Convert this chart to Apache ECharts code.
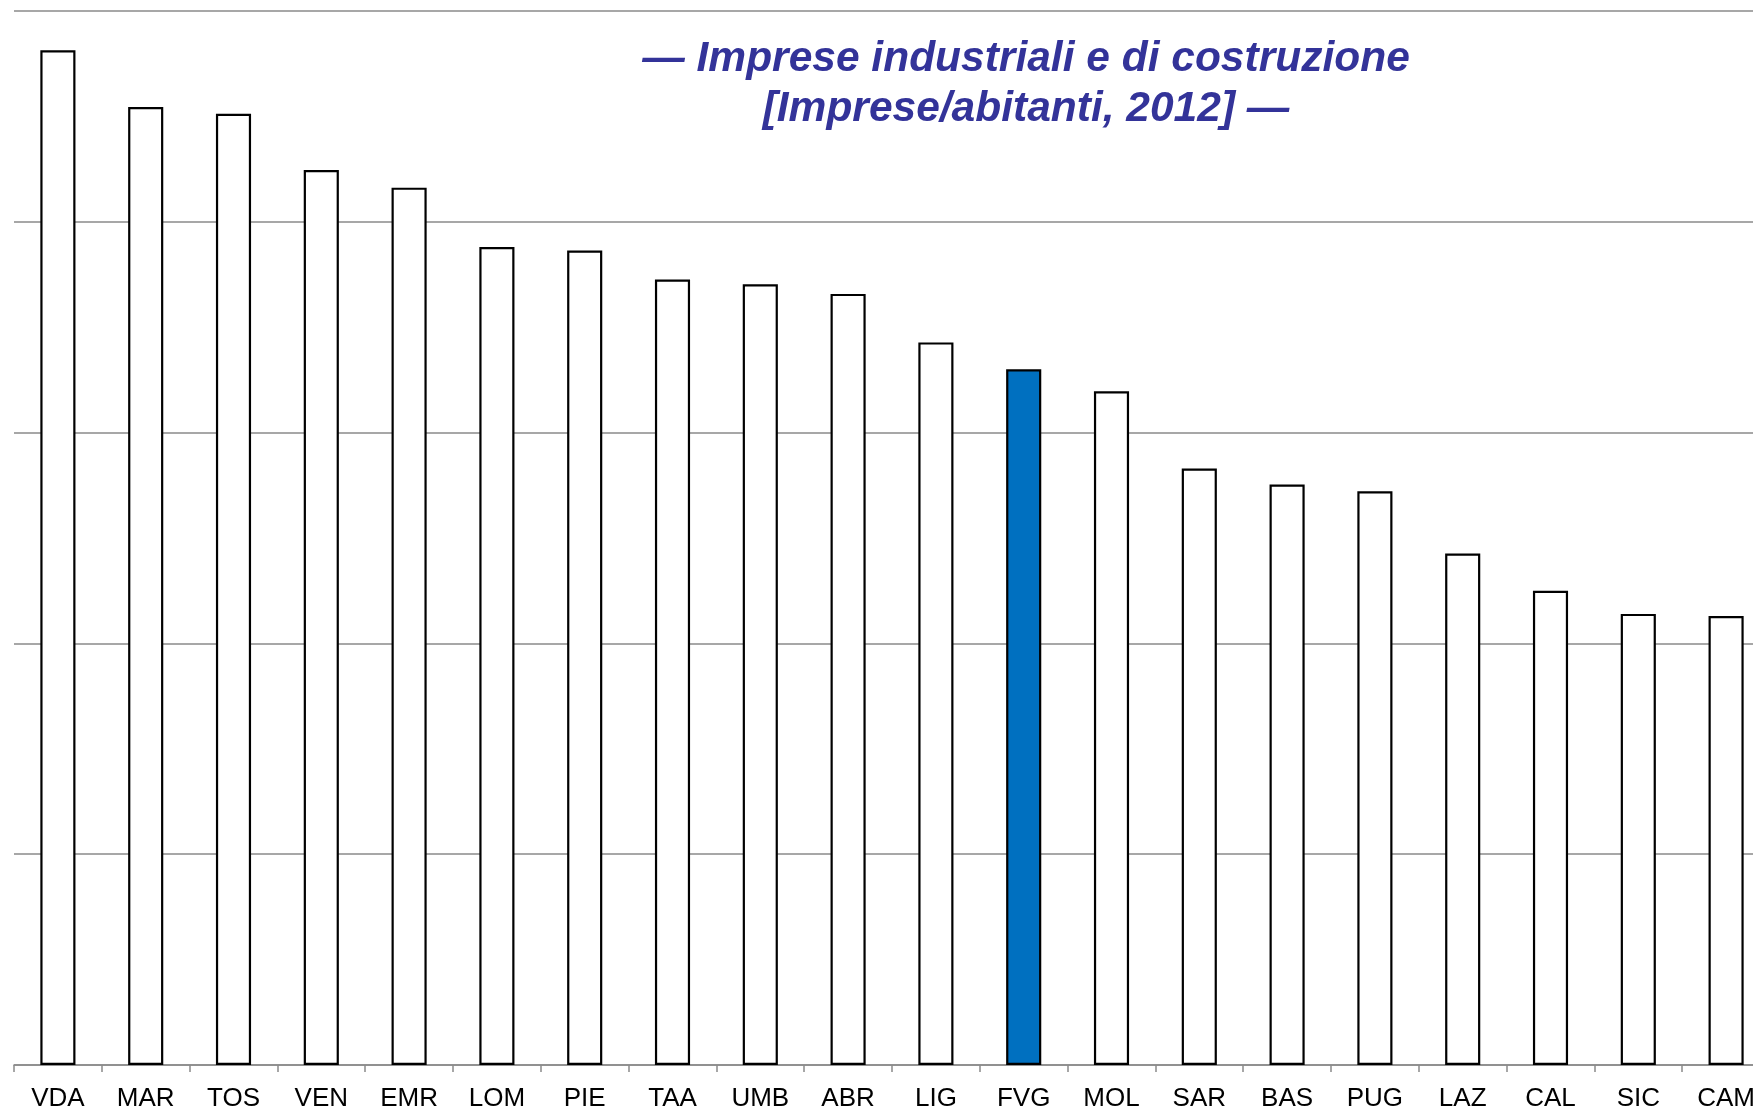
<!DOCTYPE html>
<html>
<head>
<meta charset="utf-8">
<script src="https://cdn.jsdelivr.net/npm/echarts@6/dist/echarts.min.js"></script>
<style>
  html, body { margin: 0; padding: 0; background: #fff; }
  #chart { width: 1753px; height: 1109px; }
</style>
</head>
<body>
<div id="chart"></div>
<script>
// regioni e valori (imprese/abitanti, scala stimata dal grafico)
const regioni = ['VDA', 'MAR', 'TOS', 'VEN', 'EMR', 'LOM', 'PIE', 'TAA', 'UMB', 'ABR',
  'LIG', 'FVG', 'MOL', 'SAR', 'BAS', 'PUG', 'LAZ', 'CAL', 'SIC', 'CAM'];
const valori = [24.07, 22.72, 22.56, 21.23, 20.81, 19.40, 19.32, 18.63, 18.52, 18.29,
  17.14, 16.50, 15.98, 14.15, 13.77, 13.61, 12.13, 11.25, 10.70, 10.65];
const evidenziata = 'FVG';

const myChart = echarts.init(document.getElementById('chart'));

const barData = valori.map(function (v, i) {
  return {
    value: v,
    itemStyle: { color: regioni[i] === evidenziata ? '#0070c0' : '#ffffff' }
  };
});

const option = {
  animation: false,
  title: {
    text: '— Imprese industriali e di costruzione\n[Imprese/abitanti, 2012] —',
    left: 1021,
    top: 29,
    textAlign: 'center',
    textStyle: {
      fontFamily: 'Liberation Sans, Arial, sans-serif',
      fontSize: 42.5,
      fontStyle: 'italic',
      fontWeight: 'bold',
      color: '#333399',
      lineHeight: 50
    }
  },
  grid: {
    left: 14,
    top: 11,
    width: 1756,
    bottom: 44,
    outerBoundsMode: 'none',  // la griglia esce dal bordo destro come nell'originale
    containLabel: false
  },
  xAxis: {
    type: 'category',
    data: regioni,
    axisLine: { lineStyle: { color: '#8a8a8a', width: 1.5 } },
    axisTick: { show: true, length: 7, lineStyle: { color: '#8a8a8a', width: 1.5 } },
    axisLabel: {
      margin: 21,
      fontFamily: 'Liberation Sans, Arial, sans-serif',
      fontSize: 26,
      color: '#000'
    }
  },
  yAxis: {
    type: 'value',
    min: 0,
    max: 25,
    interval: 5,
    axisLabel: { show: false },
    axisLine: { show: false },
    axisTick: { show: false },
    splitLine: { lineStyle: { color: '#8a8a8a', width: 1.5 } }
  },
  series: [{
    type: 'bar',
    data: barData,
    barWidth: '40%',
    itemStyle: { borderColor: '#000', borderWidth: 2.2 }
  }]
};

myChart.setOption(option);
</script>
</body>
</html>
